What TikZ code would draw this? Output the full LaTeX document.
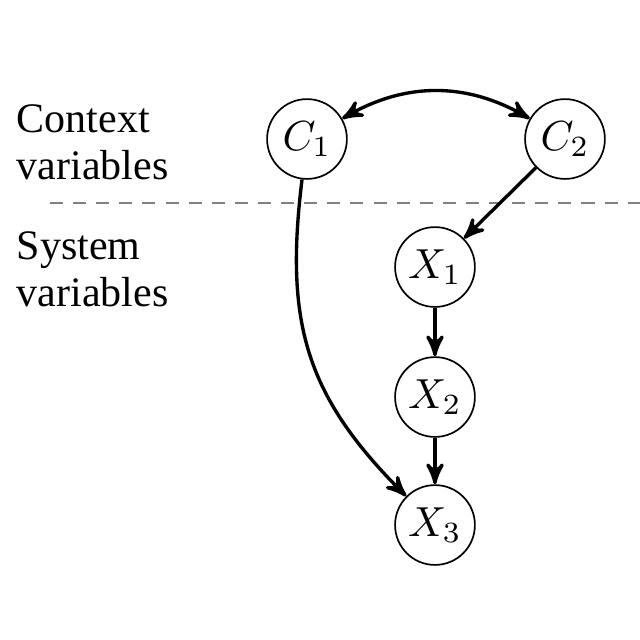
\documentclass[tikz,border=0pt]{standalone}
\usepackage{fontspec}
\setmainfont{Liberation Serif}
\usepackage{amsmath}
\usetikzlibrary{arrows}

\begin{document}
\begin{tikzpicture}[>=stealth', x=0.238pt, y=-0.238pt]
	\tikzstyle{format} = [draw, thin, circle, minimum size=19pt, inner sep=0pt]
	\tikzstyle{vartext} = [align=left, inner sep=0pt, anchor=north west, font=\fontsize{10}{11.2}\selectfont]
	\useasboundingbox (0,0) rectangle (640,640);
	% split between context and system
	\draw[gray, thin, dash pattern=on 3.1pt off 2.4pt] (50,203) -- (640,203);
	\begin{scope}
	  \path[->, thick]
	  node[vartext] (ctx) at (15,103) {Context\\variables}
	  node[vartext] (sys) at (15,230) {System\\variables}
	  node[format] (c1) at (307,139) {$C_1$}
	  node[format] (c2) at (565,139) {$C_2$}
	  node[format] (x1) at (435,267) {$X_1$}
	  node[format] (x2) at (435,397) {$X_2$}
	  node[format] (x3) at (435,525) {$X_3$}
	  (c1) edge[<->, bend left=30] (c2)
	  (c2) edge (x1)
	  (x1) edge (x2)
	  (x2) edge (x3)
	  (c1) edge[out=-97, in=135, looseness=1.1] (x3)
	  ;
	\end{scope}
\end{tikzpicture}
\end{document}
